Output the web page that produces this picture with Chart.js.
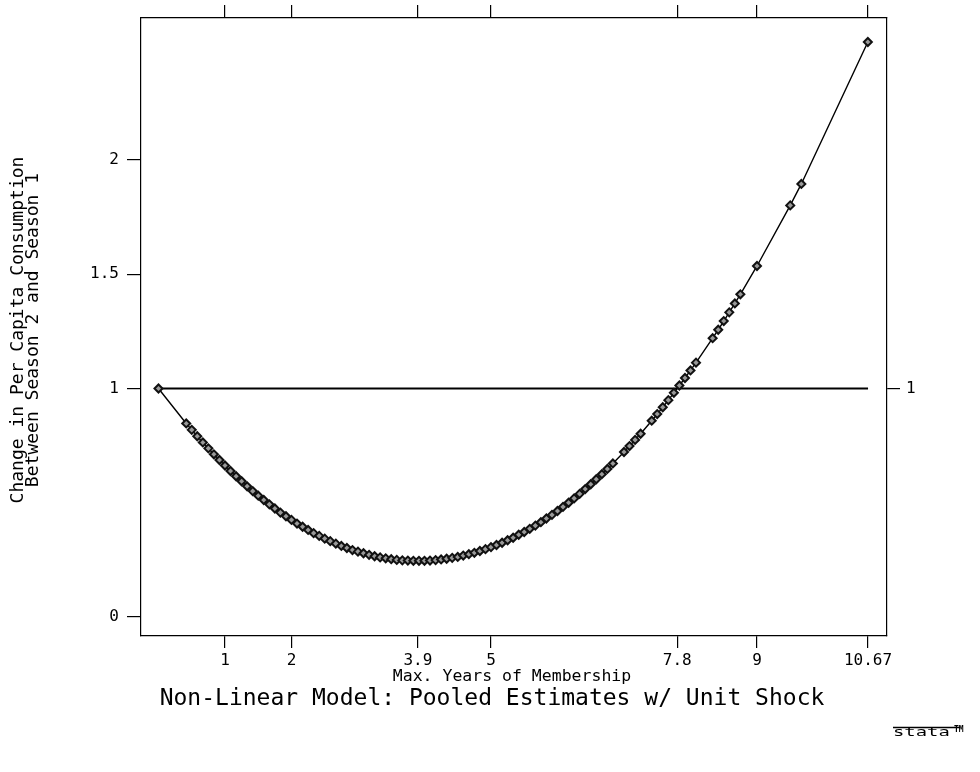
<!DOCTYPE html>
<html>
<head>
<meta charset="utf-8">
<script src="https://cdn.jsdelivr.net/npm/chart.js@4.4.1/dist/chart.umd.min.js"></script>
<style>
  body { margin: 0; background: #fff; }
  #wrap { width: 980px; height: 772px; }
</style>
</head>
<body>
<div id="wrap"><canvas id="myChart" width="980" height="772"></canvas></div>
<script>
// years of membership (monthly steps)
const years = [
  0, 0.417, 0.5, 0.583, 0.667, 0.75, 0.833, 0.917, 1, 1.083, 1.167, 1.25, 1.333, 1.417, 1.5, 1.583,
  1.667, 1.75, 1.833, 1.917, 2, 2.083, 2.167, 2.25, 2.333, 2.417, 2.5, 2.583, 2.667, 2.75, 2.833,
  2.917, 3, 3.083, 3.167, 3.25, 3.333, 3.417, 3.5, 3.583, 3.667, 3.75, 3.833, 3.917, 4, 4.083,
  4.167, 4.25, 4.333, 4.417, 4.5, 4.583, 4.667, 4.75, 4.833, 4.917, 5, 5.083, 5.167, 5.25, 5.333,
  5.417, 5.5, 5.583, 5.667, 5.75, 5.833, 5.917, 6, 6.083, 6.167, 6.25, 6.333, 6.417, 6.5, 6.583,
  6.667, 6.75, 6.833, 7, 7.083, 7.167, 7.25, 7.417, 7.5, 7.583, 7.667, 7.75, 7.833, 7.917, 8,
  8.083, 8.333, 8.417, 8.5, 8.583, 8.667, 8.75, 9, 9.5, 9.667, 10.667
];
// change in per capita consumption
const change = [
  1.000, 0.847, 0.819, 0.791, 0.764, 0.738, 0.712, 0.687, 0.663, 0.639, 0.616, 0.594, 0.572, 0.551, 0.531, 0.512,
  0.493, 0.475, 0.457, 0.441, 0.425, 0.409, 0.395, 0.381, 0.367, 0.355, 0.343, 0.332, 0.321, 0.311, 0.302,
  0.293, 0.286, 0.279, 0.272, 0.266, 0.261, 0.257, 0.253, 0.250, 0.248, 0.247, 0.246, 0.246, 0.246, 0.247,
  0.249, 0.252, 0.255, 0.259, 0.263, 0.269, 0.275, 0.281, 0.289, 0.297, 0.306, 0.315, 0.325, 0.336, 0.347,
  0.360, 0.372, 0.386, 0.400, 0.415, 0.431, 0.447, 0.464, 0.482, 0.500, 0.519, 0.539, 0.560, 0.581, 0.603,
  0.625, 0.648, 0.672, 0.722, 0.748, 0.775, 0.802, 0.859, 0.888, 0.918, 0.949, 0.981, 1.013, 1.046, 1.079,
  1.113, 1.220, 1.257, 1.295, 1.333, 1.372, 1.412, 1.536, 1.801, 1.895, 2.516
];
// reference line y = 1
const refX = [0, 10.67];
const refY = [1, 1];

const xTicks = [1, 2, 3.9, 5, 7.8, 9, 10.67];
const xTickLabels = ['1', '2', '3.9', '5', '7.8', '9', '10.67'];
const yTicks = [0, 1, 1.5, 2];
const yTickLabels = ['0', '1', '1.5', '2'];
const y2Ticks = [1];
const y2TickLabels = ['1'];

const MONO = '"DejaVu Sans Mono", "Liberation Mono", monospace';

function fixedTicks(vals) {
  return function(scale) {
    scale.ticks = vals.map(v => ({ value: v }));
  };
}

function labelFrom(vals, labels) {
  return function(value) {
    const i = vals.indexOf(value);
    return i >= 0 ? labels[i] : '';
  };
}

// axis frame: black border + outer tick marks only
function frame(tickLen) {
  return {
    border: { display: true, color: '#000', width: 1.2 },
    grid: { drawOnChartArea: false, drawTicks: true, tickLength: tickLen, color: '#000', lineWidth: 1.2 }
  };
}

// titles and the stata mark
const textPlugin = {
  id: 'stataText',
  afterDraw(chart) {
    const ctx = chart.ctx;
    ctx.save();
    ctx.fillStyle = '#000';
    ctx.textAlign = 'center';
    ctx.textBaseline = 'middle';

    ctx.font = '16.5px ' + MONO;
    ctx.fillText('Max. Years of Membership', 512, 677);

    ctx.font = '23px ' + MONO;
    ctx.fillText('Non-Linear Model: Pooled Estimates w/ Unit Shock', 492, 699);

    ctx.save();
    ctx.translate(0, 330);
    ctx.rotate(-Math.PI / 2);
    ctx.font = '18px ' + MONO;
    ctx.fillText('Change in Per Capita Consumption', 0, 18);
    ctx.fillText('Between Season 2 and Season 1', 0, 33);
    ctx.restore();

    // stata logo
    ctx.strokeStyle = '#000';
    ctx.lineWidth = 1.5;
    ctx.beginPath();
    ctx.moveTo(893, 727.5);
    ctx.lineTo(960, 727.5);
    ctx.stroke();
    ctx.save();
    ctx.translate(893, 733);
    ctx.scale(1.45, 1);
    ctx.textAlign = 'left';
    ctx.font = '13px ' + MONO;
    ctx.fillText('stata', 0, 0);
    ctx.restore();
    ctx.font = 'bold 8px ' + MONO;
    ctx.textAlign = 'left';
    ctx.fillText('TM', 954, 730);
    ctx.restore();
  }
};

const ctx = document.getElementById('myChart').getContext('2d');
new Chart(ctx, {
  type: 'line',
  data: {
    datasets: [
      {
        label: 'estimate',
        data: years.map((x, i) => ({ x: x, y: change[i] })),
        borderColor: '#000',
        borderWidth: 1.4,
        pointStyle: 'rectRot',
        pointRadius: 4,
        pointBorderWidth: 2,
        pointBorderColor: '#111',
        pointBackgroundColor: '#999',
        tension: 0,
        xAxisID: 'x',
        yAxisID: 'y'
      },
      {
        label: 'one',
        data: refX.map((x, i) => ({ x: x, y: refY[i] })),
        borderColor: '#000',
        borderWidth: 1.8,
        pointRadius: 0,
        xAxisID: 'x',
        yAxisID: 'y'
      }
    ]
  },
  plugins: [textPlugin],
  options: {
    responsive: false,
    animation: false,
    events: [],
    layout: { padding: 0 },
    plugins: {
      legend: { display: false },
      tooltip: { enabled: false },
      title: { display: false }
    },
    scales: {
      x: {
        type: 'linear',
        position: 'bottom',
        min: -0.263,
        max: 10.955,
        afterBuildTicks: fixedTicks(xTicks),
        afterFit: s => { s.height = 136; },
        ...frame(12),
        ticks: {
          autoSkip: false, maxRotation: 0, padding: 3, color: '#000',
          font: { family: MONO, size: 16 },
          callback: labelFrom(xTicks, xTickLabels)
        }
      },
      x2: {
        type: 'linear',
        position: 'top',
        min: -0.263,
        max: 10.955,
        afterBuildTicks: fixedTicks(xTicks),
        afterFit: s => { s.height = 18; },
        ...frame(13),
        ticks: { display: false }
      },
      y: {
        type: 'linear',
        position: 'left',
        min: -0.083,
        max: 2.621,
        afterBuildTicks: fixedTicks(yTicks),
        afterFit: s => { s.width = 141; },
        ...frame(14),
        ticks: {
          autoSkip: false, padding: 8, color: '#000',
          font: { family: MONO, size: 16 },
          callback: labelFrom(yTicks, yTickLabels)
        }
      },
      y2: {
        type: 'linear',
        position: 'right',
        min: -0.083,
        max: 2.621,
        afterBuildTicks: fixedTicks(y2Ticks),
        afterFit: s => { s.width = 93; },
        ...frame(13),
        ticks: {
          autoSkip: false, padding: 6, color: '#000',
          font: { family: MONO, size: 16 },
          callback: labelFrom(y2Ticks, y2TickLabels)
        }
      }
    }
  }
});
</script>
</body>
</html>
